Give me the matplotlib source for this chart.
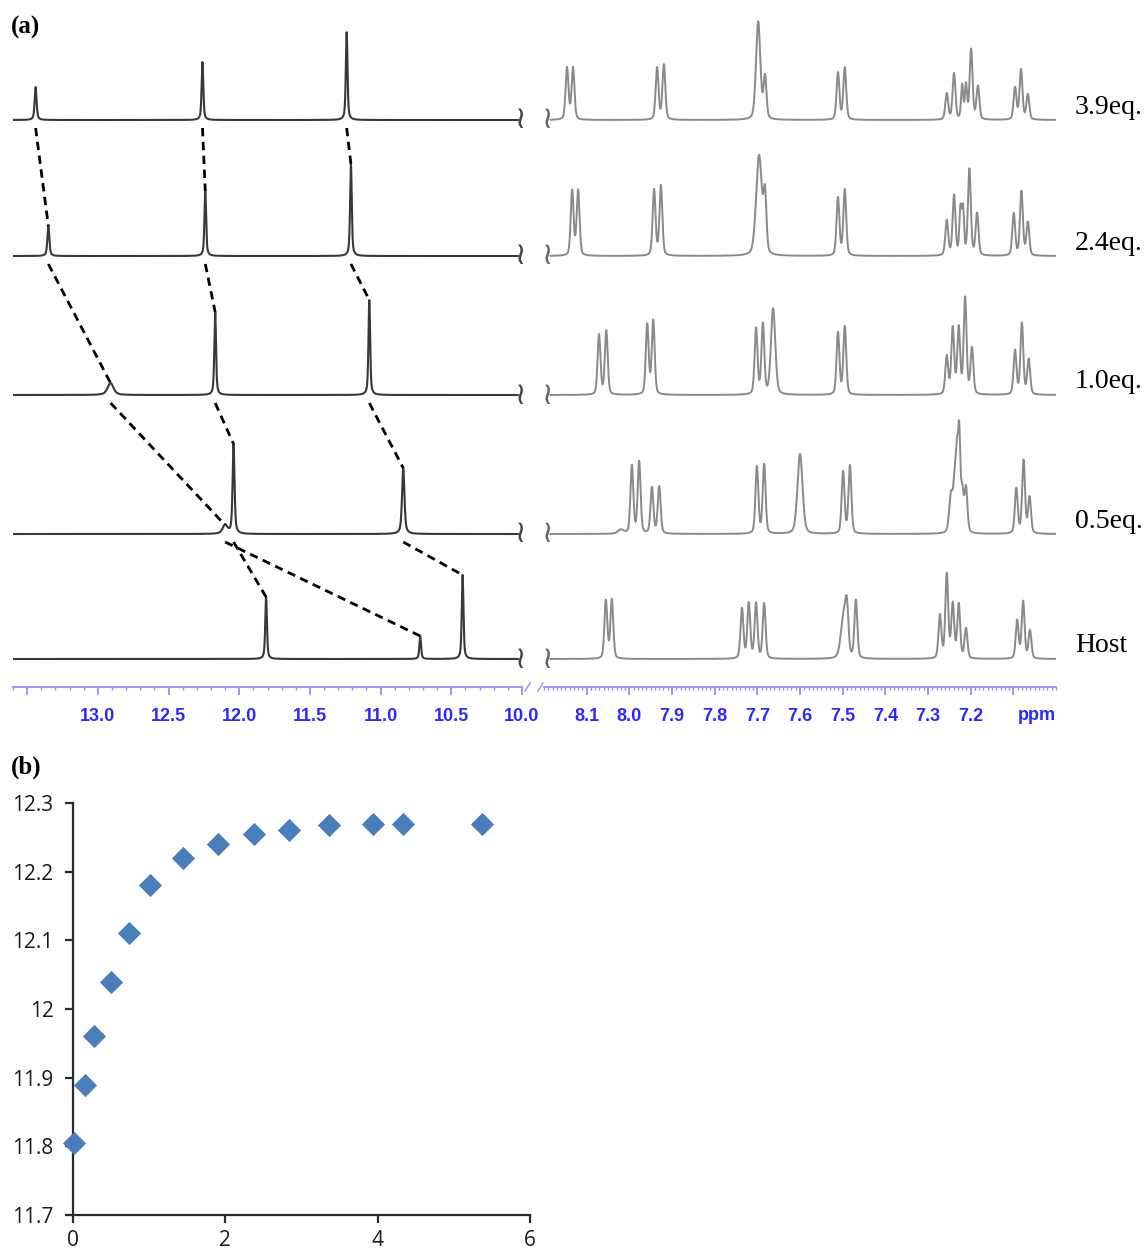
import numpy as np
import matplotlib.pyplot as plt
from matplotlib.ticker import MultipleLocator, FixedLocator, FuncFormatter

# ---------------- data ----------------
spectrum_labels = ['3.9eq.', '2.4eq.', '1.0eq.', '0.5eq.', 'Host']

# downfield NH signals, tracked from the top spectrum to the host
nh_a_ppm = [13.44, 13.35, 12.91, 12.10, 10.72]
nh_a_h = [33, 30, 12, 9, 23]
nh_a_w = [0.008, 0.008, 0.025, 0.02, 0.007]
nh_b_ppm = [12.26, 12.24, 12.17, 12.04, 11.81]
nh_b_h = [58, 65, 83, 90, 62]
nh_b_w = [0.007, 0.007, 0.007, 0.008, 0.007]
nh_c_ppm = [11.24, 11.21, 11.08, 10.84, 10.42]
nh_c_h = [88, 92, 95, 66, 84]
nh_c_w = [0.007, 0.007, 0.007, 0.01, 0.007]

# aromatic region, one peak list per spectrum
arom_ppm = [
    [8.146, 8.132, 7.935, 7.919, 7.698, 7.682, 7.511, 7.495,
     7.256, 7.239, 7.220, 7.211, 7.199, 7.183, 7.096, 7.082, 7.066],
    [8.134, 8.120, 7.942, 7.926, 7.696, 7.682, 7.511, 7.495,
     7.256, 7.239, 7.224, 7.218, 7.203, 7.185, 7.099, 7.081, 7.066],
    [8.071, 8.054, 7.958, 7.944, 7.703, 7.687, 7.663, 7.511, 7.495,
     7.256, 7.242, 7.228, 7.213, 7.197, 7.096, 7.080, 7.064],
    [8.020, 7.994, 7.977, 7.947, 7.930, 7.701, 7.684, 7.600, 7.499, 7.483,
     7.246, 7.237, 7.232, 7.227, 7.220, 7.211, 7.093, 7.076, 7.062],
    [8.055, 8.041, 7.736, 7.720, 7.703, 7.684, 7.497, 7.490, 7.469,
     7.272, 7.256, 7.242, 7.228, 7.211, 7.091, 7.077, 7.061],
]
arom_h = [
    [52, 52, 52, 55, 98, 42, 47, 52, 26, 46, 34, 34, 70, 33, 32, 50, 25],
    [65, 65, 66, 70, 100, 55, 58, 66, 35, 60, 45, 45, 86, 42, 42, 64, 33],
    [60, 64, 70, 74, 66, 70, 86, 62, 68, 38, 66, 66, 96, 46, 44, 71, 35],
    [4, 68, 72, 46, 47, 67, 69, 80, 62, 68, 38, 50, 60, 92, 40, 44, 45, 73, 36],
    [58, 59, 50, 55, 55, 55, 45, 35, 58, 43, 84, 54, 54, 30, 38, 57, 28],
]
arom_w = [
    [.004, .004, .004, .004, .006, .004, .004, .004, .004, .004, .003, .003, .004, .004, .004, .004, .004],
    [.004, .004, .004, .004, .008, .004, .004, .004, .004, .004, .003, .003, .004, .004, .004, .004, .004],
    [.004, .004, .004, .004, .004, .004, .006, .004, .004, .004, .004, .004, .004, .004, .004, .004, .004],
    [.008, .004, .004, .004, .004, .004, .004, .007, .004, .004, .005, .004, .003, .003, .004, .004, .004, .004, .004],
    [.004, .004, .004, .004, .004, .004, .008, .004, .004, .004, .004, .004, .004, .004, .004, .004, .004],
]

# (b) titration curve
equiv = [0.01, 0.16, 0.28, 0.50, 0.74, 1.01, 1.45, 1.90, 2.37, 2.84, 3.36, 3.94, 4.33, 5.37]
shift = [11.805, 11.89, 11.96, 12.04, 12.11, 12.18, 12.22, 12.24, 12.255, 12.26, 12.268, 12.27, 12.27, 12.27]

# ---------------- layout ----------------
W, H = 1148, 1254
base = [567, 431, 292, 153, 28]   # baseline of each trace, px above the ppm axis


def lineshape(x, pos, hts, wid, frac_l=0.4):
    # pseudo-Voigt: mix of Lorentzian and Gaussian with the same half width
    y = np.zeros_like(x)
    for p, h, w in zip(pos, hts, wid):
        d = (x - p) / w
        y += h * (frac_l / (1 + d**2) + (1 - frac_l) * np.exp(-np.log(2) * d**2))
    return y


fig = plt.figure(figsize=(W / 100, H / 100), dpi=100)
axL = fig.add_axes([13 / W, 1 - 687 / H, 509 / W, 677 / H])
axR = fig.add_axes([544 / W, 1 - 687 / H, 512 / W, 677 / H])

xl = np.linspace(13.6, 10.03, 4000)
xr = np.linspace(8.185, 7.0, 3000)
for i in range(5):
    pos = [nh_a_ppm[i], nh_b_ppm[i], nh_c_ppm[i]]
    hts = [nh_a_h[i], nh_b_h[i], nh_c_h[i]]
    wid = [nh_a_w[i], nh_b_w[i], nh_c_w[i]]
    axL.plot(xl, base[i] + lineshape(xl, pos, hts, wid, 0.6), color='#383838', lw=1.5)
    axR.plot(xr, base[i] + lineshape(xr, arom_ppm[i], arom_h[i], arom_w[i], 0.3),
             color='#8a8a8a', lw=1.4)
    axL.text(10.01, base[i], '≀', fontsize=22, color='#444444', ha='center', va='center')
    axR.text(8.192, base[i], '≀', fontsize=22, color='#666666', ha='center', va='center')
    fig.text(1075 / W, 1 - (687 - base[i] - 13) / H, spectrum_labels[i],
             family='Liberation Serif', fontsize=20, va='center', ha='left')

# dashed lines following the NH peaks
for ppm, hts in [(nh_a_ppm, nh_a_h), (nh_b_ppm, nh_b_h), (nh_c_ppm, nh_c_h)]:
    for i in range(4):
        axL.plot([ppm[i], ppm[i + 1]], [base[i] - 8, base[i + 1] + hts[i + 1]],
                 color='black', lw=2, ls=(0, (3, 2)))

axis_blue = '#8f8fff'
label_blue = '#2a2aff'
for ax in (axL, axR):
    ax.set_ylim(0, 677)
    for s in ('top', 'left', 'right'):
        ax.spines[s].set_visible(False)
    ax.spines['bottom'].set_color(axis_blue)
    ax.spines['bottom'].set_linewidth(1.3)
    ax.set_yticks([])
    ax.tick_params(axis='x', which='major', direction='out', length=6, width=1.3,
                   color=axis_blue, labelcolor=label_blue, labelsize=13, pad=9)
    ax.tick_params(axis='x', which='minor', direction='out', length=2.5, width=1,
                   color=axis_blue)

axL.set_xlim(13.6, 10.0)
axL.xaxis.set_major_locator(FixedLocator([13.5, 13.0, 12.5, 12.0, 11.5, 11.0, 10.5, 10.0]))
axL.xaxis.set_minor_locator(MultipleLocator(0.1))
axL.xaxis.set_major_formatter(FuncFormatter(lambda v, p: '' if v > 13.2 else f'{v:.1f}'))

axR.set_xlim(8.2, 7.0)
axR.xaxis.set_major_locator(FixedLocator([8.1, 8.0, 7.9, 7.8, 7.7, 7.6, 7.5, 7.4, 7.3, 7.2, 7.1]))
axR.xaxis.set_minor_locator(MultipleLocator(0.01))
axR.xaxis.set_major_formatter(FuncFormatter(lambda v, p: '' if v < 7.15 else f'{v:.1f}'))
axR.text(7.045, -29, 'ppm', color=label_blue, fontsize=13, fontweight='bold',
         family='Liberation Sans', ha='center', va='center', clip_on=False)

for ax in (axL, axR):
    for lab in ax.get_xticklabels():
        lab.set_fontweight('bold')
        lab.set_family('Liberation Sans')

# axis break marks
axL.plot([1.006, 1.016], [-0.006, 0.006], transform=axL.transAxes, color=axis_blue, lw=1, clip_on=False)
axR.plot([-0.012, -0.002], [-0.006, 0.006], transform=axR.transAxes, color=axis_blue, lw=1, clip_on=False)

fig.text(11 / W, 1 - 27 / H, '(a)', family='Liberation Serif', fontweight='bold', fontsize=18, va='center')
fig.text(11 / W, 1 - 767 / H, '(b)', family='Liberation Serif', fontweight='bold', fontsize=18, va='center')

# ---------------- (b) ----------------
axB = fig.add_axes([73 / W, 1 - 1215 / H, 457 / W, 412 / H])
axB.scatter(equiv, shift, marker='D', s=140, color='#4a7ebb', clip_on=False, zorder=3, linewidths=0)
axB.set_xlim(0, 6)
axB.set_ylim(11.7, 12.3)
axB.set_xticks([0, 2, 4, 6])
axB.set_yticks([11.7, 11.8, 11.9, 12.0, 12.1, 12.2, 12.3])
axB.yaxis.set_major_formatter(FuncFormatter(lambda v, p: f'{v:g}'))
for s in ('top', 'right'):
    axB.spines[s].set_visible(False)
for s in ('left', 'bottom'):
    axB.spines[s].set_linewidth(1.6)
    axB.spines[s].set_color('#2a2a2a')
axB.tick_params(direction='out', length=6, width=1.6, color='#2a2a2a', labelsize=15)
axB.tick_params(axis='y', pad=8)
axB.tick_params(axis='x', pad=5)
for lab in axB.get_xticklabels() + axB.get_yticklabels():
    lab.set_family('Open Sans')
    lab.set_color('#1a1a1a')

fig.savefig('out.png', dpi=100)
